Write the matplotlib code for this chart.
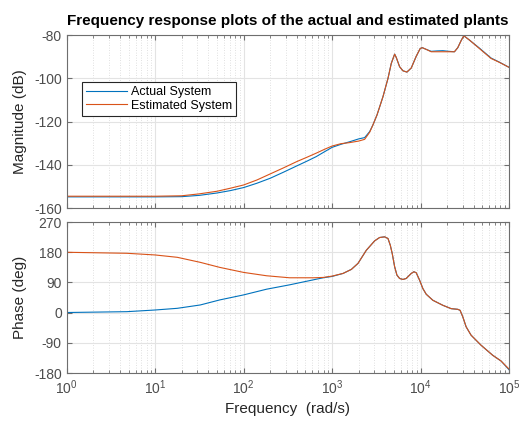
import numpy as np
import matplotlib
matplotlib.use("Agg")
import matplotlib.pyplot as plt
from matplotlib.ticker import LogLocator, NullFormatter, MultipleLocator

plt.rcParams['font.family'] = ['Liberation Sans', 'DejaVu Sans']
plt.rcParams['mathtext.fontset'] = 'custom'
plt.rcParams['mathtext.rm'] = 'Liberation Sans'
plt.rcParams['mathtext.it'] = 'Liberation Sans'
plt.rcParams['axes.unicode_minus'] = False

BLUE = '#0072BD'
ORANGE = '#D95319'
AX_COLOR = '#6e6e6e'
TICK_COLOR = '#4d4d4d'

# magnitude (log10 of rad/s, dB)
mag_logw = [0.0, 0.5, 1.0, 1.3, 1.5, 1.7, 1.85, 2.0, 2.15, 2.3, 2.45, 2.6, 2.72, 2.82,
            2.92, 3.0, 3.1, 3.2, 3.3, 3.368, 3.425, 3.462, 3.508, 3.575, 3.632, 3.669,
            3.707, 3.725, 3.763, 3.801, 3.846, 3.895, 3.951, 3.996, 4.019, 4.064, 4.12,
            4.19, 4.252, 4.32, 4.383, 4.421, 4.459, 4.489, 4.553, 4.665, 4.797, 4.891, 5.0]
mag_actual = [-154.8, -154.8, -154.8, -154.7, -154.1, -153.0, -151.9, -150.5, -148.5, -146.2,
              -143.4, -140.5, -138.2, -136.2, -133.8, -131.9, -130.5, -129.3, -128.0, -127.4,
              -124.6, -121.5, -116.9, -108.5, -100.0, -93.1, -88.8, -90.3, -94.6, -96.5,
              -97.1, -95.2, -89.8, -86.2, -85.8, -86.6, -87.5, -87.3, -87.2, -87.5, -87.7,
              -85.8, -82.5, -80.3, -82.3, -86.0, -90.6, -92.5, -94.9]
mag_estimated = [-154.5, -154.5, -154.5, -154.3, -153.4, -152.2, -150.8, -149.3, -147.0, -144.2,
                 -141.4, -138.5, -136.4, -134.6, -132.7, -131.3, -130.2, -129.7, -129.0, -128.2,
                 -124.9, -121.5, -116.9, -108.5, -100.0, -93.1, -88.8, -90.3, -94.6, -96.5,
                 -97.1, -95.2, -89.8, -86.2, -85.8, -86.6, -87.7, -87.7, -87.7, -87.7, -87.7,
                 -85.8, -82.5, -80.3, -82.3, -86.2, -90.8, -92.6, -94.9]

# phase (log10 of rad/s, deg)
ph_logw = [0.0, 0.68, 1.0, 1.25, 1.51, 1.73, 2.0, 2.26, 2.52, 2.79, 2.9, 3.0, 3.124, 3.218,
           3.293, 3.387, 3.481, 3.537, 3.594, 3.632, 3.658, 3.680, 3.707, 3.733, 3.763, 3.801,
           3.838, 3.895, 3.925, 3.951, 3.989, 4.026, 4.064, 4.139, 4.252, 4.346, 4.421, 4.447,
           4.477, 4.515, 4.571, 4.684, 4.816, 4.910, 5.0]
ph_actual = [0.5, 3, 8, 13, 23, 38, 53, 70, 83, 98, 104, 108, 117, 129,
             147, 186, 214, 224, 226, 221, 201, 176, 137, 112, 102, 99,
             102, 117, 122, 119, 97, 72, 55, 37, 22, 12, 10, 7,
             -12, -42, -67, -97, -127, -144, -170]
ph_estimated = [180, 177, 172, 165, 150, 135, 120, 110, 104, 104, 105, 109, 117, 129,
                147, 186, 214, 224, 226, 221, 201, 176, 137, 112, 102, 99,
                102, 117, 122, 119, 97, 72, 55, 37, 22, 12, 10, 7,
                -12, -42, -67, -97, -127, -144, -168]

mag_w = 10.0 ** np.array(mag_logw)
ph_w = 10.0 ** np.array(ph_logw)


def style_axes(ax):
    ax.set_xscale('log')
    ax.set_xlim(1, 1e5)
    ax.xaxis.set_major_locator(LogLocator(base=10, numticks=10))
    ax.xaxis.set_minor_locator(LogLocator(base=10, subs=np.arange(2, 10), numticks=20))
    ax.xaxis.set_minor_formatter(NullFormatter())
    ax.grid(True, which='major', color='#e3e3e3', linewidth=0.8)
    ax.grid(True, which='minor', axis='x', color='#d6d6d6', linestyle=(0, (1, 2)), linewidth=0.6)
    ax.set_axisbelow(True)
    for s in ax.spines.values():
        s.set_color(AX_COLOR)
        s.set_linewidth(0.8)
    ax.tick_params(which='both', direction='in', top=True, right=True,
                   colors=AX_COLOR, labelcolor=TICK_COLOR, labelsize=10)
    ax.tick_params(which='major', length=3.5)
    ax.tick_params(which='minor', length=2)


fig = plt.figure(figsize=(5.21, 4.23), dpi=100)
ax_mag = fig.add_axes([0.128, 0.508, 0.849, 0.409])
ax_ph = fig.add_axes([0.128, 0.118, 0.849, 0.357])

ax_mag.plot(mag_w, mag_actual, color=BLUE, linewidth=0.8, label='Actual System')
ax_mag.plot(mag_w, mag_estimated, color=ORANGE, linewidth=0.8, label='Estimated System')
style_axes(ax_mag)
ax_mag.set_ylim(-160, -80)
ax_mag.yaxis.set_major_locator(MultipleLocator(20))
ax_mag.tick_params(axis='x', which='both', labelbottom=False)
ax_mag.set_ylabel('Magnitude (dB)', fontsize=11, color='#262626')
ax_mag.yaxis.set_label_coords(-0.09, 0.5)
ax_mag.set_title('Frequency response plots of the actual and estimated plants',
                 fontsize=11, fontweight='bold', pad=7)
leg = ax_mag.legend(loc='upper left', bbox_to_anchor=(0.035, 0.728), borderaxespad=0,
                    fontsize=9, fancybox=False, framealpha=1, edgecolor='#262626',
                    handlelength=3.3, handletextpad=0.3, labelspacing=0.15, borderpad=0.3)
leg.get_frame().set_linewidth(0.8)

ax_ph.plot(ph_w, ph_actual, color=BLUE, linewidth=0.8)
ax_ph.plot(ph_w, ph_estimated, color=ORANGE, linewidth=0.8)
style_axes(ax_ph)
ax_ph.set_ylim(-180, 270)
ax_ph.yaxis.set_major_locator(MultipleLocator(90))
ax_ph.set_ylabel('Phase (deg)', fontsize=11, color='#262626')
ax_ph.yaxis.set_label_coords(-0.09, 0.5)
ax_ph.set_xlabel('Frequency  (rad/s)', fontsize=11, color='#262626')

fig.savefig('out.png', dpi=100)
